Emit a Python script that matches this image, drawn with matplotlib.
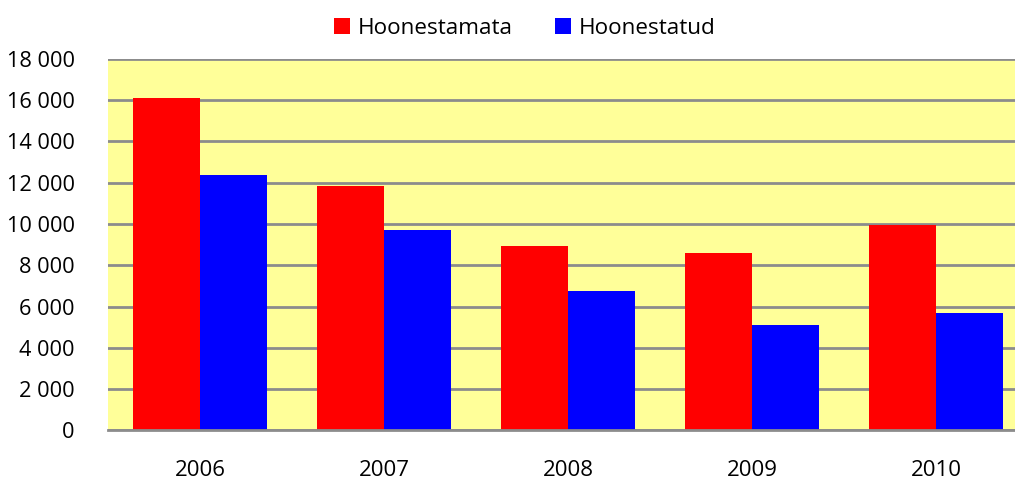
import matplotlib
matplotlib.use("Agg")
import matplotlib.pyplot as plt
import numpy as np

years = ["2006", "2007", "2008", "2009", "2010"]
hoonestamata = [16120, 11840, 8930, 8570, 9930]
hoonestatud = [12370, 9700, 6750, 5110, 5710]
yticks = [0, 2000, 4000, 6000, 8000, 10000, 12000, 14000, 16000, 18000]
ytick_labels = ["0", "2 000", "4 000", "6 000", "8 000", "10 000", "12 000", "14 000", "16 000", "18 000"]

plt.rcParams['font.family'] = ['Open Sans', 'DejaVu Sans']

fig = plt.figure(figsize=(10.15, 4.82), dpi=100)
ax = fig.add_axes([108/1015, 0.107, 920/1015, 0.771])
ax.set_facecolor('#FFFF99')

x = np.arange(len(years))
w = 0.364
ax.bar(x - w/2, hoonestamata, width=w, color='#FF0000', label='Hoonestamata', zorder=3)
ax.bar(x + w/2, hoonestatud, width=w, color='#0000FF', label='Hoonestatud', zorder=3)

ax.set_xlim(-0.5, len(years) - 0.5)
ax.set_ylim(0, 18000)
ax.set_yticks(yticks)
ax.set_yticklabels(ytick_labels, fontsize=15.7)
ax.set_xticks(x)
ax.set_xticklabels(years, fontsize=16)
ax.tick_params(axis='both', length=0)
ax.tick_params(axis='y', pad=24)
ax.tick_params(axis='x', pad=21)

ax.yaxis.grid(True, color='#8C8C8C', linewidth=2, zorder=1)
ax.set_axisbelow(True)
for s in ['top', 'right', 'left']:
    ax.spines[s].set_visible(False)
ax.spines['bottom'].set_color('#8C8C8C')
ax.spines['bottom'].set_linewidth(2)
ax.spines['bottom'].set_zorder(4)

fig.legend(loc='upper center', bbox_to_anchor=(0.517, 1.005), ncol=2, frameon=False,
           fontsize=16.2, handlelength=0.7, handleheight=0.7, handletextpad=0.35,
           columnspacing=1.9)

fig.savefig('out.png', dpi=100)
